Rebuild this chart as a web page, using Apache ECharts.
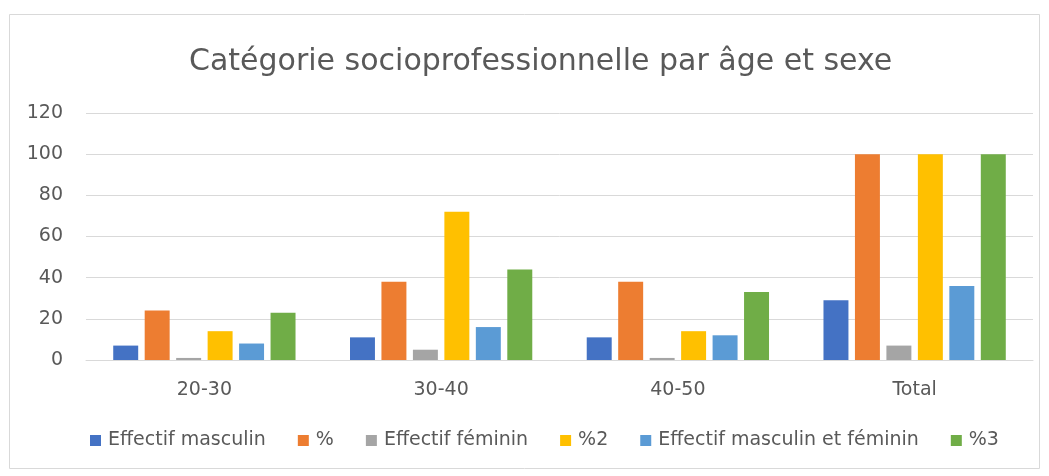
<!DOCTYPE html>
<html>
<head>
<meta charset="utf-8">
<script src="https://cdn.jsdelivr.net/npm/echarts@6/dist/echarts.min.js"></script>
<style>
  html, body { margin: 0; padding: 0; background: #fff; }
  #main { width: 1049px; height: 476px; }
</style>
</head>
<body>
<div id="main"></div>
<script>
var categories = ['20-30', '30-40', '40-50', 'Total'];
var seriesNames = ['Effectif masculin', '%', 'Effectif féminin', '%2', 'Effectif masculin et féminin', '%3'];
var effMasc = [7, 11, 11, 29];
var pctMasc = [24, 38, 38, 100];
var effFem = [1, 5, 1, 7];
var pctFem = [14, 72, 14, 100];
var effTotal = [8, 16, 12, 36];
var pctTotal = [23, 44, 33, 100];
var colors = ['#4472C4', '#ED7D31', '#A5A5A5', '#FFC000', '#5B9BD5', '#70AD47'];

var myChart = echarts.init(document.getElementById('main'));
var fontName = 'DejaVu Sans';
var allData = [effMasc, pctMasc, effFem, pctFem, effTotal, pctTotal];

var series = [];
for (var i = 0; i < seriesNames.length; i++) {
    series.push({
        name: seriesNames[i],
        type: 'bar',
        data: allData[i],
        barGap: '26%',
        barCategoryGap: '23%',
        itemStyle: { color: colors[i] }
    });
}

var option = {
    backgroundColor: '#fff',
    color: colors,
    animation: false,
    title: {
        text: 'Catégorie socioprofessionnelle par âge et sexe',
        left: 184,
        top: 42,
        textStyle: {
            fontFamily: fontName,
            fontSize: 30,
            fontWeight: 'normal',
            color: '#595959'
        }
    },
    graphic: [{
        type: 'rect',
        shape: { x: 9.5, y: 14.5, width: 1030, height: 454 },
        style: { fill: 'none', stroke: '#d9d9d9', lineWidth: 1 },
        silent: true
    }],
    legend: {
        bottom: 21,
        left: 85,
        itemWidth: 11,
        itemHeight: 11,
        itemGap: 32,
        icon: 'rect',
        textStyle: {
            fontFamily: fontName,
            fontSize: 19,
            color: '#595959',
            padding: [0, 0, 0, 2]
        }
    },
    grid: {
        left: 86,
        right: 16,
        top: 113,
        bottom: 116
    },
    xAxis: {
        type: 'category',
        data: categories,
        axisLine: { lineStyle: { color: '#d9d9d9', width: 1 } },
        axisTick: { show: false },
        axisLabel: {
            fontFamily: fontName,
            fontSize: 19,
            color: '#595959',
            margin: 21
        }
    },
    yAxis: {
        type: 'value',
        min: 0,
        max: 120,
        interval: 20,
        axisLine: { show: false },
        axisTick: { show: false },
        axisLabel: {
            fontFamily: fontName,
            fontSize: 19,
            color: '#595959',
            margin: 23
        },
        splitLine: { lineStyle: { color: '#d9d9d9', width: 1 } }
    },
    series: series
};

myChart.setOption(option);
window.onresize = function () {
    myChart.resize();
};
</script>
</body>
</html>
